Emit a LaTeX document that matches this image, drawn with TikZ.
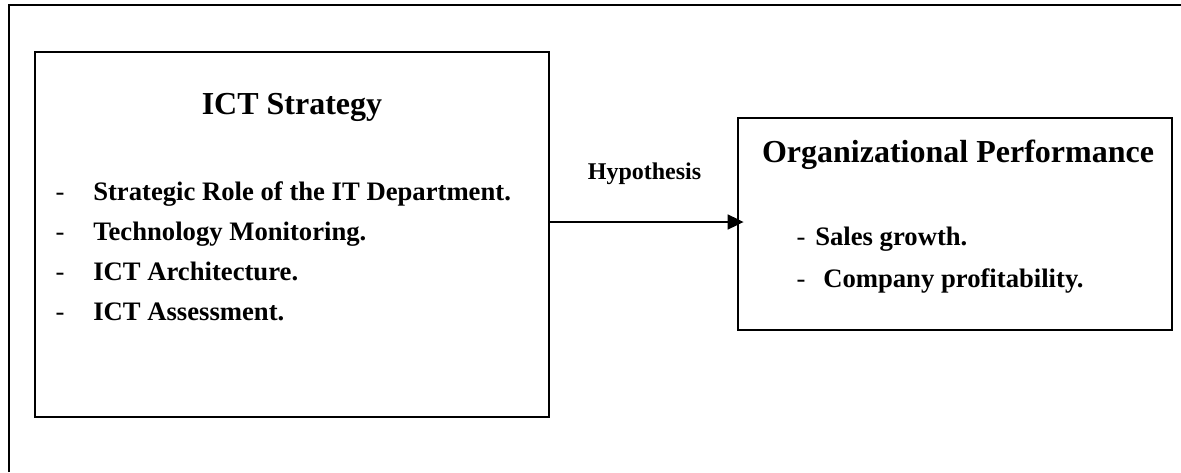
\documentclass[tikz,border=0pt]{standalone}
\usepackage{fontspec}
\setmainfont{Liberation Serif}
\usetikzlibrary{arrows.meta}

\tikzset{
  box/.style={draw, line width=1.5pt, inner sep=0pt},
  bigtitle/.style={anchor=base, font=\fontsize{24}{28}\selectfont\bfseries},
  itemtxt/.style={anchor=base west, inner sep=0pt, font=\fontsize{20}{24}\selectfont\bfseries},
  itemdash/.style={anchor=base, inner sep=0pt, font=\fontsize{20}{24}\selectfont},
  hyparrow/.style={-{Triangle[length=12pt, width=11pt]}, line width=2pt, shorten >=-5pt}
}

\begin{document}
\begin{tikzpicture}[x=0.75pt, y=-0.75pt]
\useasboundingbox (0,0) rectangle (1181,472);
% outer frame, only top and left show
\draw[line width=1.6pt] (9,472) -- (9,5) -- (1181,5);
\node[box, minimum width=385.5pt, minimum height=273.75pt] (ictbox) at (292,234.5) {};
\node[box, minimum width=325.5pt, minimum height=159pt] (perfbox) at (955,224) {};
\node[bigtitle] (icttitle) at (292,114) {ICT Strategy};
\node[bigtitle] (perftitle) at (958,162) {Organizational Performance};
\foreach \y/\txt [count=\i] in {200/Strategic Role of the IT Department., 240/Technology Monitoring., 280/ICT Architecture., 320/ICT Assessment.} {
	\node[itemdash] (ictdash\i) at (60,\y) {-}; \node[itemtxt] (ictitem\i) at (93,\y) {\txt};
}
\node[itemdash] (perfdash1) at (801,245) {-}; \node[itemtxt] (perfitem1) at (815,245) {Sales growth.};
\node[itemdash] (perfdash2) at (801,287) {-}; \node[itemtxt] (perfitem2) at (823,287) {Company profitability.};
\coordinate (hypline) at (644,222);
\draw[hyparrow] (ictbox.east |- hypline) -- (perfbox.west |- hypline);
\node[anchor=base, font=\fontsize{18}{22}\selectfont\bfseries] (hyp) at (644.5,179) {Hypothesis};
\end{tikzpicture}
\end{document}
